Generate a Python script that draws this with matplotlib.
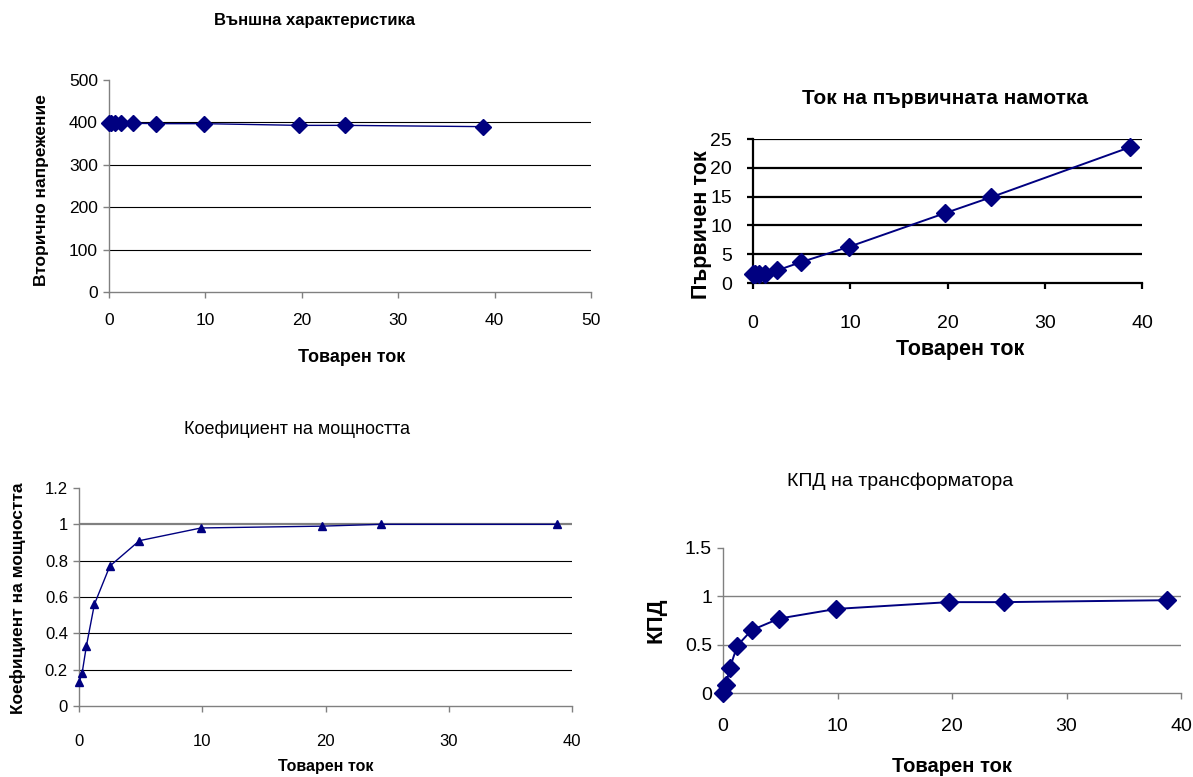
import matplotlib
matplotlib.use("Agg")
import matplotlib.pyplot as plt

plt.rcParams['font.family'] = ['Liberation Sans', 'DejaVu Sans']

W, H = 1193, 777

# ---- data ----
load_current = [0, 0.25, 0.6, 1.25, 2.5, 4.9, 9.9, 19.7, 24.5, 38.8]
secondary_voltage = [398, 398, 398, 398, 398, 397, 397, 393, 393, 390]
primary_current = [1.6, 1.6, 1.6, 1.5, 2.2, 3.6, 6.3, 12.1, 14.9, 23.6]
power_factor = [0.13, 0.18, 0.33, 0.56, 0.77, 0.91, 0.98, 0.99, 1.0, 1.0]
efficiency = [0.0, 0.08, 0.26, 0.49, 0.65, 0.77, 0.87, 0.94, 0.94, 0.96]

titles = ["Външна характеристика", "Ток на първичната намотка",
          "Коефициент на мощността", "КПД на трансформатора"]
xlabel = "Товарен ток"
ylabels = ["Вторично напрежение", "Първичен ток", "Коефициент на мощността", "КПД"]

NAVY = '#000080'

fig = plt.figure(figsize=(W / 100, H / 100), dpi=100)


def make_ax(x0, x1, ytop, ybot):
    return fig.add_axes([x0 / W, 1 - ybot / H, (x1 - x0) / W, (ybot - ytop) / H])


def style(ax, spine_col, lw_sp, ticksize, ylim, yticks, xlim, xticks, ylabs=None):
    ax.set_xlim(*xlim)
    ax.set_ylim(*ylim)
    ax.set_xticks(xticks)
    ax.set_yticks(yticks)
    if ylabs is not None:
        ax.set_yticklabels(ylabs)
    for s in ['top', 'right']:
        ax.spines[s].set_visible(False)
    for s in ['left', 'bottom']:
        ax.spines[s].set_color(spine_col)
        ax.spines[s].set_linewidth(lw_sp)
    ax.tick_params(axis='both', direction='out', length=4, width=lw_sp, color=spine_col,
                   labelsize=ticksize, pad=4)


def hgrid(ax, ys, col, lw):
    for y in ys:
        ax.axhline(y, color=col, lw=lw, zorder=0.5)


# ---- Chart 1 ----
ax1 = make_ax(109, 591, 80, 292)
style(ax1, '#808080', 1.0, 12.5, (0, 500), [0, 100, 200, 300, 400, 500],
      (0, 50), [0, 10, 20, 30, 40, 50])
hgrid(ax1, [100, 200, 300, 400], '#000000', 0.8)
ax1.plot(load_current, secondary_voltage, color=NAVY, lw=1.0, marker='D', ms=8,
         mfc=NAVY, mec=NAVY, clip_on=False, zorder=3)
ax1.tick_params(axis='x', pad=11)
fig.text(315 / W, 1 - 20 / H, titles[0], ha='center', va='center', fontsize=12, fontweight='bold')
fig.text(352 / W, 1 - 358 / H, xlabel, ha='center', va='center', fontsize=13, fontweight='bold')
fig.text(42 / W, 1 - 190 / H, ylabels[0], ha='center', va='center', fontsize=12.5,
         fontweight='bold', rotation=90)

# ---- Chart 2 ----
ax2 = make_ax(753, 1142, 139, 283)
style(ax2, '#000000', 1.6, 14, (0, 25), [0, 5, 10, 15, 20, 25],
      (0, 40), [0, 10, 20, 30, 40])
hgrid(ax2, [5, 10, 15, 20, 25], '#000000', 1.6)
ax2.plot(load_current, primary_current, color=NAVY, lw=1.4, marker='D', ms=9,
         mfc=NAVY, mec=NAVY, clip_on=False, zorder=3)
ax2.tick_params(axis='x', pad=19)
ax2.tick_params(axis='y', pad=11)
fig.text(945 / W, 1 - 99 / H, titles[1], ha='center', va='center', fontsize=15, fontweight='bold')
fig.text(960 / W, 1 - 349 / H, xlabel, ha='center', va='center', fontsize=15.5, fontweight='bold')
fig.text(701 / W, 1 - 225 / H, ylabels[1], ha='center', va='center', fontsize=15.5,
         fontweight='bold', rotation=90)

# ---- Chart 3 ----
ax3 = make_ax(79, 572, 488, 706)
style(ax3, '#808080', 1.0, 12, (0, 1.2), [0, 0.2, 0.4, 0.6, 0.8, 1.0, 1.2],
      (0, 40), [0, 10, 20, 30, 40], ylabs=['0', '0.2', '0.4', '0.6', '0.8', '1', '1.2'])
hgrid(ax3, [0.2, 0.4, 0.6, 0.8], '#000000', 0.8)
hgrid(ax3, [1.0], '#808080', 1.6)
ax3.plot(load_current, power_factor, color=NAVY, lw=1.0, marker='^', ms=6,
         mfc=NAVY, mec=NAVY, clip_on=False, zorder=3)
ax3.tick_params(axis='x', pad=16)
fig.text(297 / W, 1 - 429 / H, titles[2], ha='center', va='center', fontsize=13)
fig.text(326 / W, 1 - 767 / H, xlabel, ha='center', va='center', fontsize=11.5, fontweight='bold')
fig.text(18 / W, 1 - 598 / H, ylabels[2], ha='center', va='center', fontsize=12.5,
         fontweight='bold', rotation=90)

# ---- Chart 4 ----
ax4 = make_ax(723, 1181, 548, 693)
style(ax4, '#808080', 1.0, 14, (0, 1.5), [0, 0.5, 1.0, 1.5],
      (0, 40), [0, 10, 20, 30, 40], ylabs=['0', '0.5', '1', '1.5'])
hgrid(ax4, [0.5, 1.0], '#808080', 1.0)
ax4.plot(load_current, efficiency, color=NAVY, lw=1.4, marker='D', ms=9,
         mfc=NAVY, mec=NAVY, clip_on=False, zorder=3)
ax4.tick_params(axis='x', pad=14)
fig.text(900 / W, 1 - 481 / H, titles[3], ha='center', va='center', fontsize=14)
fig.text(952 / W, 1 - 767 / H, xlabel, ha='center', va='center', fontsize=14.5, fontweight='bold')
fig.text(656 / W, 1 - 620 / H, ylabels[3], ha='center', va='center', fontsize=16,
         fontweight='bold', rotation=90)

fig.savefig('out.png', dpi=100)
